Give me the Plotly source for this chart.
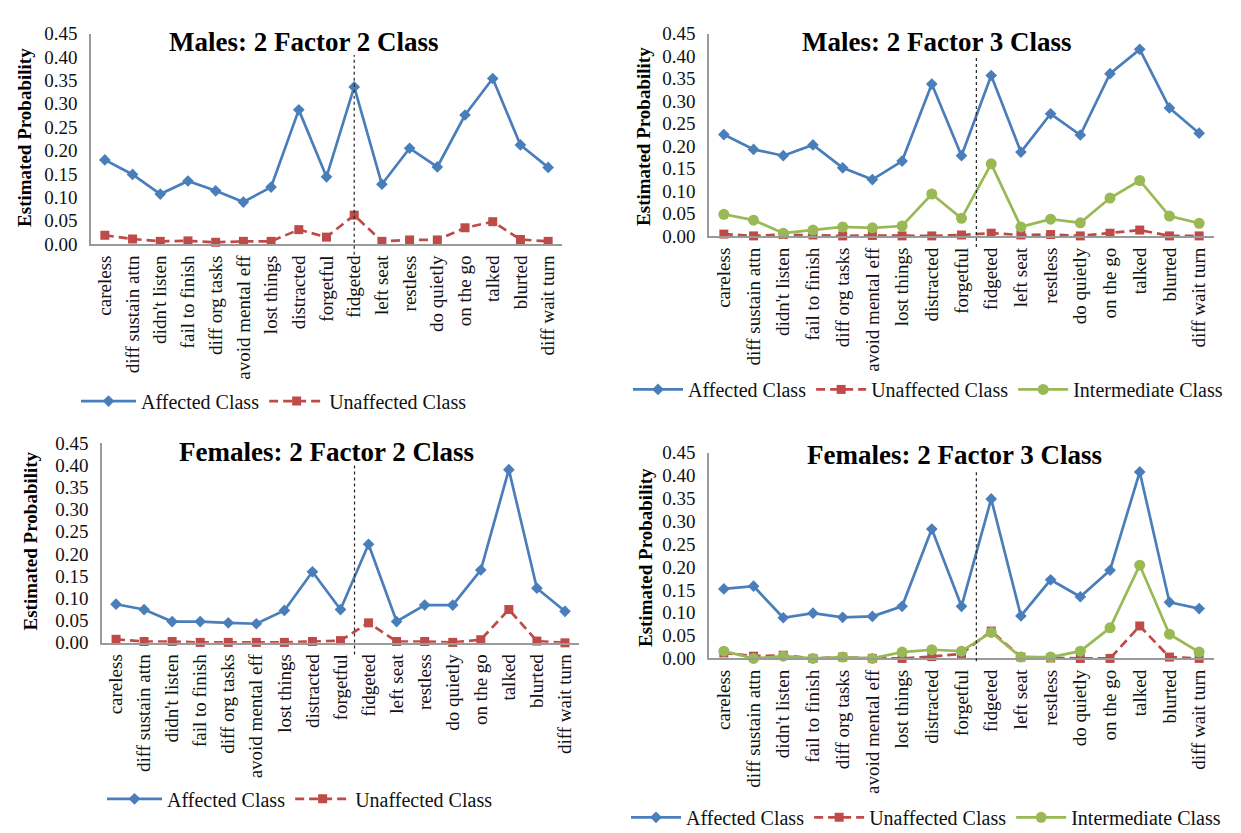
import plotly.graph_objects as go

# ---------------- data ----------------
symptoms = ["careless", "diff sustain attn", "didn't listen", "fail to finish", "diff org tasks",
            "avoid mental eff", "lost things", "distracted", "forgetful", "fidgeted", "left seat",
            "restless", "do quietly", "on the go", "talked", "blurted", "diff wait turn"]

y_ticks = [0.00, 0.05, 0.10, 0.15, 0.20, 0.25, 0.30, 0.35, 0.40, 0.45]

m22_affected = [0.180, 0.149, 0.107, 0.135, 0.114, 0.090, 0.122, 0.287, 0.144, 0.336, 0.128,
                0.205, 0.165, 0.276, 0.354, 0.212, 0.164]
m22_unaffected = [0.019, 0.011, 0.006, 0.007, 0.004, 0.006, 0.006, 0.031, 0.015, 0.062, 0.006,
                  0.009, 0.009, 0.035, 0.048, 0.010, 0.006]

m23_affected = [0.226, 0.193, 0.179, 0.203, 0.152, 0.126, 0.167, 0.338, 0.179, 0.357, 0.187,
                0.272, 0.225, 0.361, 0.415, 0.285, 0.229]
m23_unaffected = [0.005, 0.001, 0.004, 0.003, 0.001, 0.002, 0.001, 0.001, 0.003, 0.007, 0.003,
                  0.004, 0.001, 0.007, 0.014, 0.001, 0.001]
m23_intermediate = [0.049, 0.036, 0.007, 0.014, 0.021, 0.019, 0.023, 0.094, 0.040, 0.161, 0.021,
                    0.038, 0.030, 0.085, 0.124, 0.045, 0.029]

f22_affected = [0.087, 0.075, 0.048, 0.048, 0.045, 0.043, 0.073, 0.160, 0.075, 0.222, 0.048,
                0.085, 0.085, 0.164, 0.390, 0.123, 0.071]
f22_unaffected = [0.008, 0.003, 0.003, 0.001, 0.001, 0.001, 0.001, 0.003, 0.005, 0.045, 0.003,
                  0.003, 0.001, 0.007, 0.075, 0.004, 0.000]

f23_affected = [0.152, 0.158, 0.089, 0.099, 0.090, 0.092, 0.114, 0.283, 0.114, 0.349, 0.093,
                0.172, 0.135, 0.193, 0.408, 0.123, 0.109]
f23_unaffected = [0.012, 0.005, 0.007, 0.000, 0.003, 0.000, 0.000, 0.004, 0.010, 0.060, 0.003,
                  0.001, 0.000, 0.000, 0.071, 0.003, 0.000]
f23_intermediate = [0.016, 0.000, 0.005, 0.000, 0.003, 0.000, 0.014, 0.019, 0.016, 0.057, 0.003,
                    0.003, 0.016, 0.067, 0.204, 0.053, 0.014]

titles = ["Males: 2 Factor 2 Class", "Males: 2 Factor 3 Class",
          "Females: 2 Factor 2 Class", "Females: 2 Factor 3 Class"]
series_names = ["Affected Class", "Unaffected Class", "Intermediate Class"]
divider_index = [9, 8.5, 8.5, 8.5]

# ---------------- layout geometry (pixels) ----------------
W, H = 1241, 833
FONT = "Liberation Serif"
BLUE, RED, GREEN = "#4A7EBB", "#BE4B48", "#98B954"
AXIS = "#9a9a9a"

# x-left, x-right, y-top(0.45), y-bottom(0.00)
boxes = [(83, 554, 16, 232), (701, 1206, 16, 224), (94, 571, 436, 641), (701, 1206, 446, 657)]
title_pos = [(295, 25), (928, 25), (319, 445), (946, 448)]
ytitle_pos = [(17, 123), (636, 122), (22, 537), (637, 554)]
divider_span = [(38, 243), (40, 235), (457, 653), (464, 660)]
legend_pos = [(68, 393), (620, 381), (94, 801), (618, 820)]
legend_itemwidth = [55, 50, 55, 50]

panels = [
    [m22_affected, m22_unaffected],
    [m23_affected, m23_unaffected, m23_intermediate],
    [f22_affected, f22_unaffected],
    [f23_affected, f23_unaffected, f23_intermediate],
]

styles = [
    dict(color=BLUE, dash="solid", symbol="diamond", size=9),
    dict(color=RED, dash="9px,5px", symbol="square", size=9),
    dict(color=GREEN, dash="solid", symbol="circle", size=11),
]

fig = go.Figure()
annotations = []
shapes = []

for p, series in enumerate(panels):
    ax = "" if p == 0 else str(p + 1)
    lg = "legend" if p == 0 else "legend" + str(p + 1)
    for s, vals in enumerate(series):
        st = styles[s]
        fig.add_trace(go.Scatter(
            x=symptoms, y=vals, name=series_names[s], mode="lines+markers",
            xaxis="x" + ax, yaxis="y" + ax, legend=lg,
            line=dict(color=st["color"], width=2.7, dash=st["dash"]),
            marker=dict(color=st["color"], symbol=st["symbol"], size=st["size"],
                        line=dict(width=0)),
            cliponaxis=False,
        ))
    x0, x1, yt, yb = boxes[p]
    fig.layout["xaxis" + ax] = dict(
        domain=[x0 / W, x1 / W], anchor="y" + ax, type="category",
        categoryorder="array", categoryarray=symptoms,
        range=[-0.5, len(symptoms) - 0.5], tickangle=-90, showgrid=False,
        showline=True, linecolor=AXIS, linewidth=1.5, ticks="",
        tickfont=dict(family=FONT, size=19, color="#111"), ticklabelstandoff=2,
        zeroline=False, fixedrange=True,
    )
    fig.layout["yaxis" + ax] = dict(
        domain=[1 - yb / H, 1 - yt / H], anchor="x" + ax, range=[0, 0.45],
        tickvals=y_ticks, ticktext=["%.2f" % v for v in y_ticks], showgrid=False,
        showline=True, linecolor=AXIS, linewidth=1.5, ticks="", zeroline=False,
        tickfont=dict(family=FONT, size=19, color="#111"), ticklabelstandoff=8,
        fixedrange=True,
    )
    tx, ty = title_pos[p]
    annotations.append(dict(text="<b>%s</b>" % titles[p], x=tx / W, y=1 - ty / H,
                            xref="paper", yref="paper", showarrow=False,
                            xanchor="center", yanchor="middle",
                            font=dict(family=FONT, size=27, color="#000")))
    yx, yy = ytitle_pos[p]
    annotations.append(dict(text="<b>Estimated Probability</b>", x=yx / W, y=1 - yy / H,
                            xref="paper", yref="paper", showarrow=False, textangle=-90,
                            xanchor="center", yanchor="middle",
                            font=dict(family=FONT, size=19, color="#000")))
    dt, db = divider_span[p]
    shapes.append(dict(type="line", xref="x" + ax, yref="paper",
                       x0=divider_index[p], x1=divider_index[p],
                       y0=1 - db / H, y1=1 - dt / H,
                       line=dict(color="#222", width=1.2, dash="dot")))
    lx, ly = legend_pos[p]
    fig.layout[lg] = dict(orientation="h", x=lx / W, y=1 - ly / H, xanchor="left",
                          yanchor="middle", bgcolor="rgba(0,0,0,0)",
                          itemwidth=legend_itemwidth[p],
                          font=dict(family=FONT, size=20, color="#111"),
                          traceorder="normal", itemclick=False, itemdoubleclick=False)

fig.update_layout(
    width=W, height=H, margin=dict(l=0, r=0, t=0, b=0),
    paper_bgcolor="white", plot_bgcolor="white",
    annotations=annotations, shapes=shapes, showlegend=True,
)

fig.write_html("out.html", config={"displayModeBar": False})
